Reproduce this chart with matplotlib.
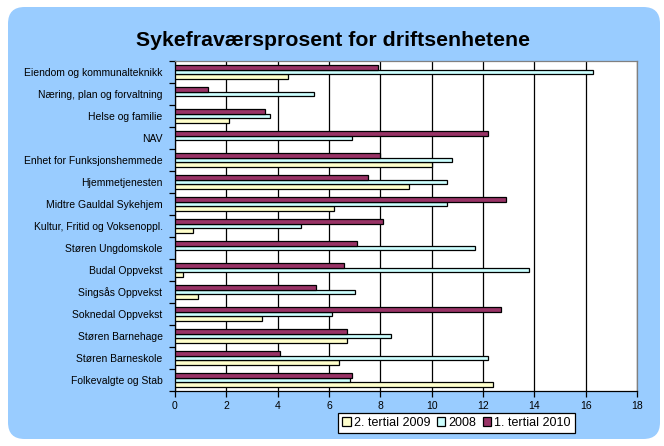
import numpy as np
import matplotlib
matplotlib.use("Agg")
import matplotlib.pyplot as plt
from matplotlib.patches import FancyBboxPatch

plt.rcParams['font.family'] = ['Liberation Sans', 'DejaVu Sans']

# Categories listed bottom -> top (as drawn)
categories = [
    "Folkevalgte og Stab",
    "Støren Barneskole",
    "Støren Barnehage",
    "Soknedal Oppvekst",
    "Singsås Oppvekst",
    "Budal Oppvekst",
    "Støren Ungdomskole",
    "Kultur, Fritid og Voksenoppl.",
    "Midtre Gauldal Sykehjem",
    "Hjemmetjenesten",
    "Enhet for Funksjonshemmede",
    "NAV",
    "Helse og familie",
    "Næring, plan og forvaltning",
    "Eiendom og kommunalteknikk",
]
tertial2_2009 = [12.4, 6.4, 6.7, 3.4, 0.9, 0.3, np.nan, 0.7, 6.2, 9.1, 10.0, np.nan, 2.1, np.nan, 4.4]
y2008 = [6.8, 12.2, 8.4, 6.1, 7.0, 13.8, 11.7, 4.9, 10.6, 10.6, 10.8, 6.9, 3.7, 5.4, 16.3]
tertial1_2010 = [6.9, 4.1, 6.7, 12.7, 5.5, 6.6, 7.1, 8.1, 12.9, 7.5, 8.0, 12.2, 3.5, 1.3, 7.9]
series_names = ["2. tertial 2009", "2008", "1. tertial 2010"]
series_colors = ["#FFFFCC", "#CCFFFF", "#993366"]
x_ticks = [0, 2, 4, 6, 8, 10, 12, 14, 16, 18]

W, H = 664, 446
fig = plt.figure(figsize=(W / 100, H / 100), dpi=100)
fig.patch.set_facecolor("white")

# Rounded blue chart area
bg = FancyBboxPatch((8 / W, 7 / H), (652 / W), (432 / H),
                    boxstyle="round,pad=0,rounding_size=0.025",
                    transform=fig.transFigure, facecolor="#99CCFF",
                    edgecolor="none", zorder=-10, mutation_aspect=W / H)
fig.patches.append(bg)

ax = fig.add_axes([175 / W, 1 - 391 / H, 462 / W, 330 / H])
ax.set_zorder(1)
ax.set_facecolor("white")

y = np.arange(len(categories))
h = 1 / 4.5
data = [tertial2_2009, y2008, tertial1_2010]
offsets = [-h, 0, h]
for vals, off, col, name in zip(data, offsets, series_colors, series_names):
    ax.barh(y + off, np.array(vals, dtype=float), height=h, color=col,
            edgecolor="black", linewidth=0.9, label=name, zorder=3)

ax.set_xlim(0, 18)
ax.set_ylim(-0.5, len(categories) - 0.5)
ax.set_xticks(x_ticks)
ax.set_xticklabels([str(t) for t in x_ticks], fontsize=7.5)
ax.xaxis.grid(True, color="black", linewidth=0.9, zorder=1)
ax.set_axisbelow(True)

ax.set_yticks(np.arange(-0.5, len(categories), 1.0))
ax.set_yticklabels([])
ax.set_yticks(y, minor=True)
ax.set_yticklabels(categories, minor=True, fontsize=7.5)
ax.tick_params(axis="y", which="minor", length=0, pad=9)
ax.tick_params(axis="y", which="major", length=4, width=0.9, direction="out")
ax.tick_params(axis="x", length=4, width=0.9, direction="out", pad=3)

for s in ["top", "right"]:
    ax.spines[s].set_color("#808080")
    ax.spines[s].set_linewidth(0.9)
for s in ["left", "bottom"]:
    ax.spines[s].set_color("black")
    ax.spines[s].set_linewidth(0.9)

fig.text(333 / W, 1 - 40 / H, "Sykefraværsprosent for driftsenhetene",
         ha="center", va="center", fontsize=15.3, fontweight="bold")

handles, labels = ax.get_legend_handles_labels()
leg = fig.legend(handles, labels, loc="center", bbox_to_anchor=(456.5 / W, 1 - 423 / H),
                 ncol=3, fontsize=9, frameon=True, fancybox=False, framealpha=1,
                 edgecolor="black", handlelength=0.7, handleheight=0.7,
                 handletextpad=0.25, columnspacing=0.5, borderpad=0.3,
                 borderaxespad=0)
leg.get_frame().set_linewidth(0.9)

fig.savefig("out.png", dpi=100, facecolor=fig.get_facecolor())
